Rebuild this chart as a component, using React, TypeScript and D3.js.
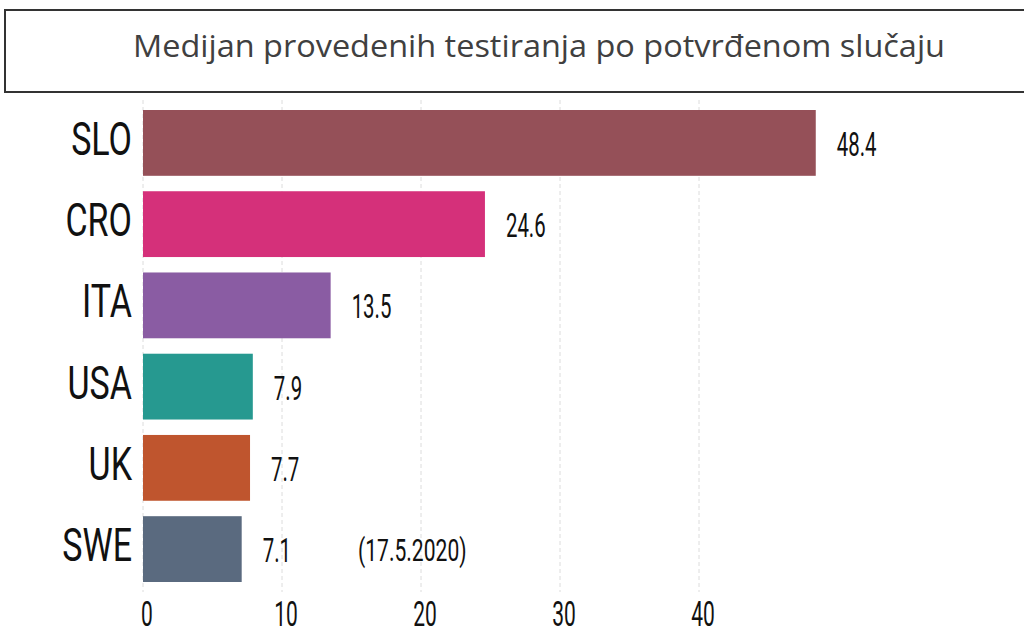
import * as d3 from 'd3';

const countries = ['SLO', 'CRO', 'ITA', 'USA', 'UK', 'SWE'];
const medians = [48.4, 24.6, 13.5, 7.9, 7.7, 7.1];
const barColors = ['#955058', '#d5307a', '#8a5ca3', '#269990', '#bf552e', '#5a6a7f'];
const xTicks = [0, 10, 20, 30, 40];
const title = 'Medijan provedenih testiranja po potvrđenom slučaju';
const note = '(17.5.2020)';

const condensed = "Roboto, 'DejaVu Sans Condensed', sans-serif";

export default function App() {
  const width = 1024;
  const height = 635;

  // scales
  const x = d3.scaleLinear().domain([0, 50]).range([143, 838]);
  const y = d3.scaleBand<string>()
    .domain(countries)
    .range([110, 582])
    .paddingInner(0.19)
    .paddingOuter(0);

  const bw = y.bandwidth();
  const mid = (c: string) => (y(c) ?? 0) + bw / 2;

  return (
    <svg
      width={width}
      height={height}
      style={{ position: 'absolute', left: 0, top: 0, background: '#fff' }}
    >
      {/* title box */}
      <rect x={5} y={10} width={1030} height={82} fill="#fff" stroke="#333" strokeWidth={2} />
      <text
        x={539}
        y={57}
        textAnchor="middle"
        fontFamily="'Open Sans', sans-serif"
        fontSize={31}
        fill="#404040"
        textLength={812}
        lengthAdjust="spacingAndGlyphs"
      >
        {title}
      </text>

      {/* gridlines */}
      {xTicks.map(t => (
        <line
          key={'g' + t}
          x1={x(t)}
          x2={x(t)}
          y1={100}
          y2={592}
          stroke="#dcdcdc"
          strokeWidth={1}
          strokeDasharray="4,3"
        />
      ))}

      {/* bars */}
      {countries.map((c, i) => (
        <rect
          key={c}
          x={x(0)}
          y={y(c)}
          width={x(medians[i]) - x(0)}
          height={bw}
          fill={barColors[i]}
        />
      ))}

      {/* category labels */}
      {countries.map(c => (
        <g key={'l' + c} transform={`translate(132,${mid(c) + 12}) scale(0.74,1)`}>
          <text textAnchor="end" fontFamily={condensed} fontSize={46} fill="#111">
            {c}
          </text>
        </g>
      ))}

      {/* value labels */}
      {countries.map((c, i) => (
        <g key={'v' + c} transform={`translate(${x(medians[i]) + 21},${mid(c) + 13}) scale(0.6,1)`}>
          <text fontFamily={condensed} fontSize={34} fill="#111">
            {medians[i]}
          </text>
        </g>
      ))}

      <g transform={`translate(358,${mid('SWE') + 12}) scale(0.68,1)`}>
        <text fontFamily={condensed} fontSize={31} fill="#111">
          {note}
        </text>
      </g>

      {/* x tick labels */}
      {xTicks.map(t => (
        <g key={'t' + t} transform={`translate(${x(t) + 4},626) scale(0.6,1)`}>
          <text textAnchor="middle" fontFamily={condensed} fontSize={35} fill="#111">
            {t}
          </text>
        </g>
      ))}
    </svg>
  );
}
